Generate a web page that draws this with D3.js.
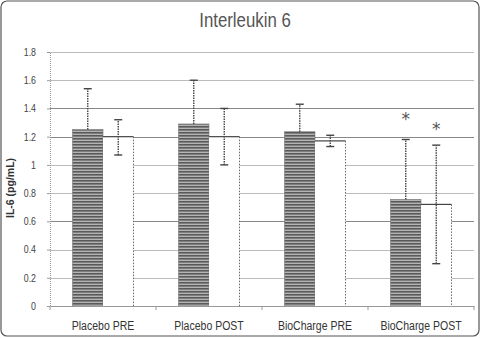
<!DOCTYPE html>
<html>
<head>
<meta charset="utf-8">
<script src="https://cdn.jsdelivr.net/npm/d3@7"></script>
<style>
  body { margin: 0; background: #fff; }
  svg { display: block; }
</style>
</head>
<body>
<div id="chart"></div>
<script>
// Chart data
const categories = ["Placebo PRE", "Placebo POST", "BioCharge PRE", "BioCharge POST"];
const series = ["pre", "post"];
const meanStriped = [1.25, 1.29, 1.235, 0.755];
const meanWhite = [1.20, 1.20, 1.17, 0.72];
const errUpStriped = [1.54, 1.60, 1.43, 1.18];
const errUpWhite = [1.32, 1.40, 1.21, 1.14];
const errLowWhite = [1.07, 1.00, 1.13, 0.30];
const starStriped = [null, null, null, 1.36];
const starWhite = [null, null, null, 1.29];
const yTicks = [0, 0.2, 0.4, 0.6, 0.8, 1, 1.2, 1.4, 1.6, 1.8];

const width = 481;
const height = 338;
const margin = {top: 52, right: 7, bottom: 32, left: 50};
const narrow = 0.84; // the original uses a condensed face

const svg = d3.select("#chart")
    .append("svg")
    .attr("width", width)
    .attr("height", height);

// squeeze text horizontally to mimic a narrow font
function condense(sel) {
    sel.each(function() {
        const w = this.getComputedTextLength();
        d3.select(this).attr("textLength", w * narrow).attr("lengthAdjust", "spacingAndGlyphs");
    });
}

// outer frame
svg.append("rect")
    .attr("x", 1).attr("y", 1)
    .attr("width", width - 3).attr("height", height - 3)
    .attr("rx", 6)
    .attr("fill", "#fff")
    .attr("stroke", "#555")
    .attr("stroke-width", 1.2);

// striped fill for the dark bars
const defs = svg.append("defs");
const pat = defs.append("pattern")
    .attr("id", "stripes")
    .attr("patternUnits", "userSpaceOnUse")
    .attr("width", 8).attr("height", 3);
pat.append("rect").attr("width", 8).attr("height", 3).attr("fill", "#b4b4b4");
pat.append("rect").attr("y", 0).attr("width", 8).attr("height", 1.6).attr("fill", "#5a5a5a");

const x = d3.scaleBand()
    .domain(categories)
    .range([margin.left, width - margin.right]);

const xInner = d3.scaleBand()
    .domain(series)
    .range([22.5, x.bandwidth() - 22.5]);

const y = d3.scaleLinear()
    .domain([0, 1.8])
    .range([height - margin.bottom, margin.top]);

// title
svg.append("text")
    .attr("x", 245).attr("y", 27)
    .attr("text-anchor", "middle")
    .attr("font-family", "'Liberation Sans', Arial, sans-serif")
    .attr("font-size", 20)
    .attr("fill", "#555")
    .text("Interleukin 6")
    .call(condense);

// gridlines
svg.append("g")
    .selectAll("line")
    .data(yTicks.slice(1))
    .join("line")
    .attr("x1", margin.left).attr("x2", width - margin.right)
    .attr("y1", d => Math.round(y(d)) + 0.5).attr("y2", d => Math.round(y(d)) + 0.5)
    .attr("stroke", d => (d === 1.4 || d === 1.2 || d === 0.6) ? "#888" : "#bbb")
    .attr("stroke-width", 1);

// y axis
const yAxis = svg.append("g")
    .attr("transform", `translate(${margin.left},0)`)
    .call(d3.axisLeft(y).tickValues(yTicks).tickSize(3).tickFormat(d3.format("")));
yAxis.select(".domain").attr("stroke", "#999").attr("stroke-dasharray", "1,1");
yAxis.selectAll(".tick line").attr("stroke", "#999");
yAxis.selectAll("text")
    .attr("font-family", "'Liberation Sans', sans-serif")
    .attr("font-size", 10.5)
    .attr("fill", "#444")
    .attr("dx", -8)
    .call(condense);

// y label
svg.append("text")
    .attr("transform", "translate(14,188) rotate(-90)")
    .attr("text-anchor", "middle")
    .attr("font-family", "'Liberation Sans', Arial, sans-serif")
    .attr("font-weight", "bold")
    .attr("font-size", 10.5)
    .attr("fill", "#333")
    .text("IL-6 (pg/mL)");

// bars
const groups = svg.append("g")
    .selectAll("g")
    .data(categories)
    .join("g")
    .attr("transform", d => `translate(${x(d)},0)`);

groups.append("rect")
    .attr("x", xInner("pre"))
    .attr("y", (d, i) => y(meanStriped[i]))
    .attr("width", xInner.bandwidth())
    .attr("height", (d, i) => y(0) - y(meanStriped[i]))
    .attr("fill", "url(#stripes)")
    .attr("stroke", "#777")
    .attr("stroke-width", 0.6);

groups.append("rect")
    .attr("x", xInner("post"))
    .attr("y", (d, i) => y(meanWhite[i]))
    .attr("width", xInner.bandwidth())
    .attr("height", (d, i) => y(0) - y(meanWhite[i]))
    .attr("fill", "#fff");

// white bar top edge (solid) and right edge (dotted)
groups.append("line")
    .attr("x1", xInner("post")).attr("x2", xInner("post") + xInner.bandwidth())
    .attr("y1", (d, i) => y(meanWhite[i])).attr("y2", (d, i) => y(meanWhite[i]))
    .attr("stroke", "#444").attr("stroke-width", 1.2);
groups.append("line")
    .attr("x1", xInner("post") + xInner.bandwidth()).attr("x2", xInner("post") + xInner.bandwidth())
    .attr("y1", (d, i) => y(meanWhite[i])).attr("y2", y(0))
    .attr("stroke", "#666").attr("stroke-dasharray", "1.5,1.5");

// error bars
function errorBar(sel, cx, lo, hi) {
    sel.append("line")
        .attr("x1", cx).attr("x2", cx)
        .attr("y1", (d, i) => y(lo[i])).attr("y2", (d, i) => y(hi[i]))
        .attr("stroke", "#444").attr("stroke-width", 1.4).attr("stroke-dasharray", "1.5,1");
    sel.append("line")
        .attr("x1", cx - 4).attr("x2", cx + 4)
        .attr("y1", (d, i) => y(hi[i])).attr("y2", (d, i) => y(hi[i]))
        .attr("stroke", "#444").attr("stroke-width", 1.4);
}
const cxPre = xInner("pre") + xInner.bandwidth() / 2;
const cxPost = xInner("post") + xInner.bandwidth() / 2;
errorBar(groups, cxPre, meanStriped, errUpStriped);
errorBar(groups, cxPost, errLowWhite, errUpWhite);
groups.append("line")
    .attr("x1", cxPost - 4).attr("x2", cxPost + 4)
    .attr("y1", (d, i) => y(errLowWhite[i])).attr("y2", (d, i) => y(errLowWhite[i]))
    .attr("stroke", "#444").attr("stroke-width", 1.4);

// significance stars
function addStar(values, cx) {
    groups.filter((d, i) => values[i] !== null)
        .append("text")
        .attr("x", cx)
        .attr("y", d => y(values[categories.indexOf(d)]) + 11)
        .attr("text-anchor", "middle")
        .attr("font-family", "'DejaVu Sans', sans-serif")
        .attr("font-size", 17)
        .attr("fill", "#555")
        .text("*");
}
addStar(starStriped, cxPre);
addStar(starWhite, cxPost);

// x axis
const xAxis = svg.append("g")
    .attr("transform", `translate(0,${y(0)})`)
    .call(d3.axisBottom(x).tickSize(0).tickPadding(15));
xAxis.select(".domain").attr("stroke", "#999");
xAxis.selectAll("text")
    .attr("font-family", "'Liberation Sans', sans-serif")
    .attr("font-size", 12.5)
    .attr("fill", "#333")
    .call(condense);

// category boundary ticks
svg.append("g")
    .selectAll("line")
    .data(categories.concat(["end"]))
    .join("line")
    .attr("x1", d => d === "end" ? width - margin.right : x(d))
    .attr("x2", d => d === "end" ? width - margin.right : x(d))
    .attr("y1", y(0)).attr("y2", y(0) + 4)
    .attr("stroke", "#999");
</script>
</body>
</html>
